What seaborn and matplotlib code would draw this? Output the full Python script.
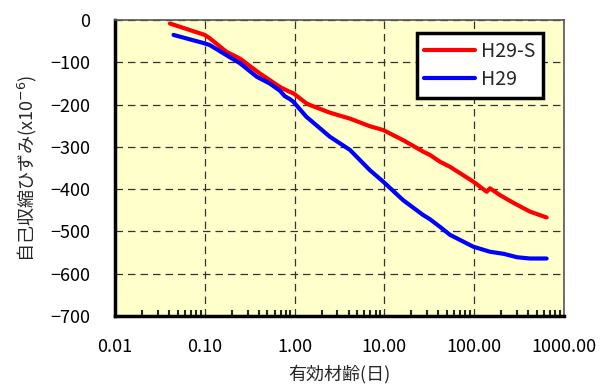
import numpy as np
import pandas as pd
import matplotlib
matplotlib.use("Agg")
import matplotlib.pyplot as plt
import seaborn as sns
from matplotlib.ticker import LogLocator, FixedLocator, FuncFormatter, NullFormatter

# --- data ---
age_s = [0.041, 0.1, 0.114, 0.175, 0.247, 0.41, 0.687, 0.89, 0.97, 1.36, 1.49, 2.48, 4.14, 6.9, 9.7,
         16.2, 27, 32.2, 41.6, 53.8, 97.7, 138, 150, 194, 272, 418, 641]
strain_s = [-8, -35, -43, -75, -91, -126, -158, -170, -173, -197, -201, -219, -233, -251, -260,
            -284, -311, -319, -335, -347, -382, -406, -398, -414, -432, -453, -467]
age_b = [0.045, 0.1, 0.114, 0.175, 0.247, 0.38, 0.53, 0.687, 0.78, 0.89, 0.97, 1.36, 1.49, 2.48, 4.14,
         6.9, 9.7, 16.2, 27, 32.2, 41.6, 53.8, 97.7, 150, 214, 300, 418, 641]
strain_b = [-35, -55, -59, -83, -102, -134, -150, -167, -180, -187, -193, -229, -236, -276, -307,
            -355, -382, -426, -461, -471, -489, -508, -536, -548, -553, -561, -564, -564]
series_names = ["H29-S", "H29"]
xticks = [0.01, 0.1, 1, 10, 100, 1000]
yticks = [0, -100, -200, -300, -400, -500, -600, -700]

df = pd.concat([
    pd.DataFrame({"age": age_s, "strain": strain_s, "series": series_names[0]}),
    pd.DataFrame({"age": age_b, "strain": strain_b, "series": series_names[1]}),
], ignore_index=True)

sns.set_theme(style="white")
plt.rcParams["font.family"] = ["Noto Sans CJK JP", "DejaVu Sans"]
plt.rcParams["axes.unicode_minus"] = True

fig = plt.figure(figsize=(6.11, 3.87), dpi=100)
ax = fig.add_axes([0.188, 0.1835, 0.735, 0.7645])
ax.set_facecolor("#FFFFCC")

sns.lineplot(data=df, x="age", y="strain", hue="series", palette=["#FF0000", "#0000FF"],
             linewidth=3, sort=False, estimator=None, ax=ax, zorder=3)

ax.set_xscale("log")
ax.set_xlim(0.01, 1000)
ax.set_ylim(-700, 0)
ax.xaxis.set_major_locator(FixedLocator(xticks))
ax.xaxis.set_major_formatter(FuncFormatter(lambda v, p: f"{v:.2f}"))
ax.xaxis.set_minor_locator(LogLocator(base=10, subs=np.arange(2, 10), numticks=20))
ax.xaxis.set_minor_formatter(NullFormatter())
ax.yaxis.set_major_locator(FixedLocator(yticks))
ax.yaxis.set_major_formatter(FuncFormatter(lambda v, p: f"{int(v)}".replace("-", "\u2212")))

ax.grid(True, which="major", color="#333333", linestyle=(0, (6, 4)), linewidth=0.9)
ax.tick_params(axis="both", which="major", direction="in", length=5, width=2,
               labelsize=13, colors="black")
ax.tick_params(axis="y", which="major", pad=18)
ax.tick_params(axis="x", which="minor", direction="in", length=4, width=1.5, bottom=True)
ax.tick_params(axis="x", which="major", pad=16)

for side in ["left", "bottom"]:
    ax.spines[side].set_linewidth(2.5)
    ax.spines[side].set_color("black")
for side in ["top", "right"]:
    ax.spines[side].set_linewidth(1.2)
    ax.spines[side].set_color("#555555")
    ax.spines[side].set_visible(True)

ax.set_xlabel("有効材齢(日)", fontsize=13, labelpad=6)
ax.set_ylabel("自己収縮ひずみ(x10$^{-6}$)", fontsize=13, labelpad=8)

leg = ax.legend(loc="upper right", bbox_to_anchor=(0.953, 0.956), frameon=True, fancybox=False,
                fontsize=14, handlelength=2.6, handletextpad=0.3, borderpad=0.4,
                labelspacing=0.35, framealpha=1, borderaxespad=0)
leg.get_frame().set_edgecolor("black")
leg.get_frame().set_linewidth(2.5)
leg.set_title(None)

fig.savefig("out.png", dpi=100, facecolor="white")
